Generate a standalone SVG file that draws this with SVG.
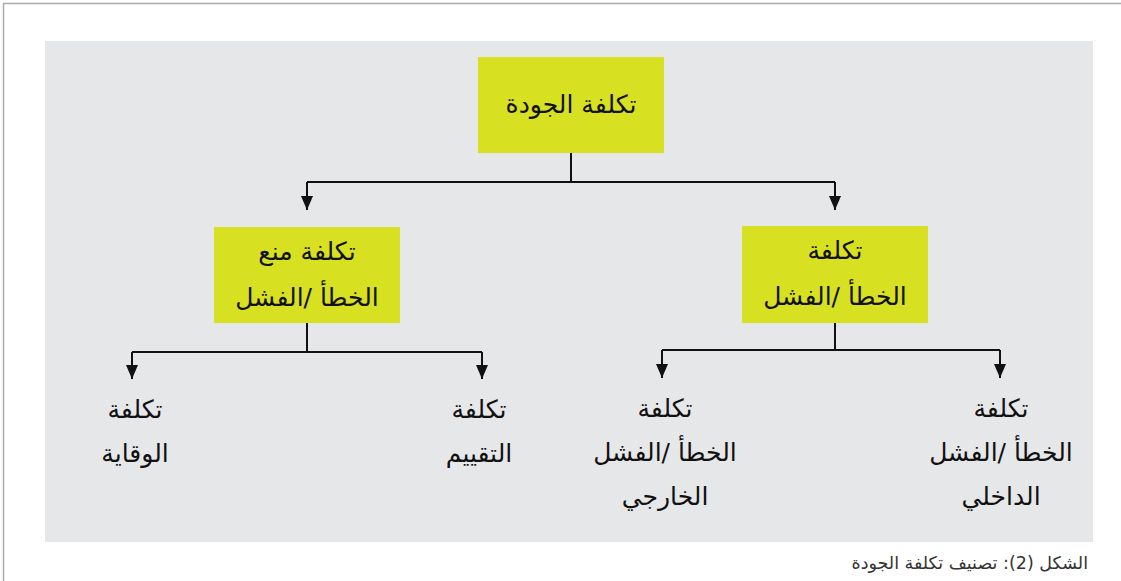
<svg xmlns="http://www.w3.org/2000/svg" width="1121" height="581" viewBox="0 0 1121 581">
<style>
.box{fill:#d7e021;}
.t{font-family:"DejaVu Sans","Noto Sans",sans-serif;font-size:25px;fill:#111;text-anchor:middle;direction:rtl;}
.c{stroke:#111;stroke-width:2;fill:none;}
.cap{font-family:"DejaVu Sans","Noto Sans",sans-serif;font-size:17.5px;fill:#333;text-anchor:start;direction:rtl;}
</style>
<defs>
<marker id="ah" markerWidth="12" markerHeight="14" refX="6" refY="14" orient="0" markerUnits="userSpaceOnUse">
<path d="M0,0 L12,0 L6,14 Z" fill="#111"/>
</marker>
</defs>
<rect x="0" y="0" width="1121" height="581" fill="#fff"/>
<path d="M3.5,581 V3.5 H1121" stroke="#aaa" stroke-width="1.5" fill="none"/>
<rect x="45" y="41" width="1048" height="501" fill="#e6e7e9"/>
<g id="connectors">
<path class="c" d="M571,153 V182"/>
<path class="c" d="M307,182 H835"/>
<path class="c" d="M307,182 V210" marker-end="url(#ah)"/>
<path class="c" d="M835,182 V210" marker-end="url(#ah)"/>
<path class="c" d="M307,323 V352"/>
<path class="c" d="M132,352 H482"/>
<path class="c" d="M132,352 V379" marker-end="url(#ah)"/>
<path class="c" d="M482,352 V379" marker-end="url(#ah)"/>
<path class="c" d="M835,323 V350"/>
<path class="c" d="M662,350 H1000"/>
<path class="c" d="M662,350 V378" marker-end="url(#ah)"/>
<path class="c" d="M1000,350 V378" marker-end="url(#ah)"/>
</g>
<g id="n-root">
<rect class="box" x="478" y="57" width="186" height="96"/>
<text class="t" x="571" y="113" font-size="27">تكلفة الجودة</text>
</g>
<g id="n-prevention">
<rect class="box" x="214" y="227" width="186" height="96"/>
<text class="t" x="307" y="260">تكلفة منع</text>
<text class="t" x="307" y="306">الخطأ /الفشل</text>
</g>
<g id="n-failure">
<rect class="box" x="742" y="226" width="186" height="97"/>
<text class="t" x="835" y="259">تكلفة</text>
<text class="t" x="835" y="305">الخطأ /الفشل</text>
</g>
<g id="n-prev-cost">
<text class="t" x="135" y="418">تكلفة</text>
<text class="t" x="135" y="462">الوقاية</text>
</g>
<g id="n-appraisal">
<text class="t" x="479" y="418">تكلفة</text>
<text class="t" x="479" y="462">التقييم</text>
</g>
<g id="n-external">
<text class="t" x="665" y="417">تكلفة</text>
<text class="t" x="665" y="461">الخطأ /الفشل</text>
<text class="t" x="665" y="505">الخارجي</text>
</g>
<g id="n-internal">
<text class="t" x="1001" y="417">تكلفة</text>
<text class="t" x="1001" y="461">الخطأ /الفشل</text>
<text class="t" x="1001" y="505">الداخلي</text>
</g>
<text class="cap" x="1088" y="569">الشكل (2): تصنيف تكلفة الجودة</text>
</svg>
